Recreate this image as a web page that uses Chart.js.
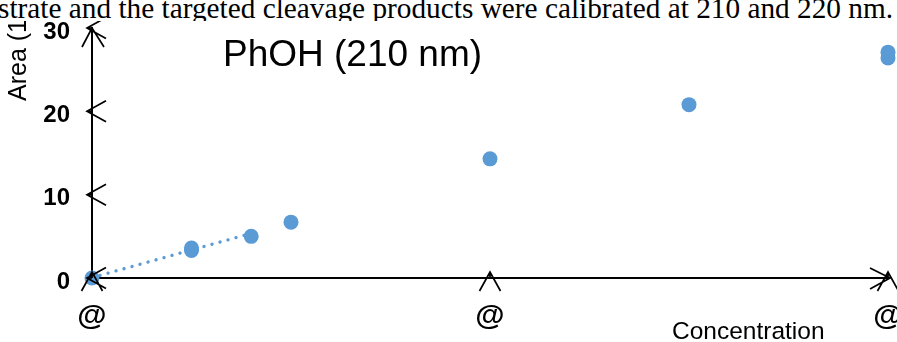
<!DOCTYPE html>
<html>
<head>
<meta charset="utf-8">
<script src="https://cdn.jsdelivr.net/npm/chart.js@4.4.1/dist/chart.umd.min.js"></script>
<style>
  html, body { margin: 0; padding: 0; background: #fff; }
  #wrap { position: relative; width: 897px; height: 342px; overflow: hidden; background: #fff; }
  #c { display: block; position: absolute; left: 0; top: 0; }
  #sentence { position: absolute; left: 0; top: 0; width: 897px; height: 21px; background: #fff; overflow: hidden; }
  #sentence span { position: absolute; left: -2px; top: -6px; white-space: nowrap; font: 29.3px/29px "Liberation Serif", "Times New Roman", serif; color: #000; }
  #title { position: absolute; left: 223px; top: 36px; white-space: nowrap; font: 37px/36px "Liberation Sans", Arial, sans-serif; color: #000; }
  #xtitle { position: absolute; left: 672px; top: 318.8px; white-space: nowrap; font: 24.5px/24.5px "Liberation Sans", Arial, sans-serif; color: #000; }
  #ytitle { position: absolute; left: 5px; top: 101px; white-space: nowrap; font: 25px/24px "Liberation Sans", Arial, sans-serif; color: #000; transform-origin: 0 0; transform: rotate(-90deg); }
</style>
</head>
<body>
<div id="wrap">
  <canvas id="c" width="897" height="342"></canvas>
  <div id="ytitle">Area (1</div>
  <div id="sentence"><span>strate and the targeted cleavage products were calibrated at 210 and 220 nm.</span></div>
  <div id="title">PhOH (210 nm)</div>
  <div id="xtitle">Concentration</div>
</div>
<script>
// ---- data ----
const concentrations = [0, 0.25, 0.25, 0.4, 0.5, 1.0, 1.5, 2.0, 2.0];
const areas          = [0, 3.6, 3.3, 5.0, 6.7, 14.3, 20.8, 27.1, 26.4];
const trendX = [0, 0.4];
const trendY = [0.05, 5.35];
const xTickValues = [0, 1, 2];
const xTickLabel = '@';
const yTickValues = [0, 10, 20, 30];

const blue = '#5B9BD5';

const arrowTicks = {
  id: 'arrowTicks',
  afterDraw(chart) {
    const { ctx, scales: { x, y } } = chart;
    const x0 = x.getPixelForValue(0);
    const y0 = y.getPixelForValue(0);
    ctx.save();
    ctx.strokeStyle = '#000';
    ctx.lineWidth = 1.7;
    ctx.lineJoin = 'miter';
    ctx.beginPath();
    // y ticks: "<" chevrons
    y.ticks.forEach(t => {
      const py = y.getPixelForValue(t.value);
      ctx.moveTo(x0 + 14, py - 10.5);
      ctx.lineTo(x0 - 5, py);
      ctx.lineTo(x0 + 14, py + 10.5);
      ctx.moveTo(x0 - 5, py);
      ctx.lineTo(x0, py);
    });
    // x ticks: "^" chevrons
    x.ticks.forEach(t => {
      const px = x.getPixelForValue(t.value);
      ctx.moveTo(px - 10.5, y0 + 13);
      ctx.lineTo(px, y0 - 6);
      ctx.lineTo(px + 10.5, y0 + 13);
      ctx.moveTo(px, y0 - 6);
      ctx.lineTo(px, y0);
    });
    // y axis end arrow
    const yt = y.getPixelForValue(y.max);
    ctx.moveTo(x0 - 10, yt + 19);
    ctx.lineTo(x0, yt);
    ctx.lineTo(x0 + 12, yt + 19);
    // x axis end arrow
    const xr = x.getPixelForValue(x.max) + 2;
    ctx.moveTo(xr - 20, y0 - 10);
    ctx.lineTo(xr, y0);
    ctx.lineTo(xr - 20, y0 + 11);
    ctx.stroke();
    ctx.lineWidth = 2;
    ctx.beginPath();
    ctx.moveTo(x.getPixelForValue(x.max) - 1, y0);
    ctx.lineTo(xr, y0);
    ctx.stroke();
    ctx.restore();
  }
};

new Chart(document.getElementById('c'), {
  type: 'scatter',
  data: {
    datasets: [
      {
        label: 'PhOH',
        data: concentrations.map((c, i) => ({ x: c, y: areas[i] })),
        backgroundColor: blue,
        borderWidth: 0,
        pointRadius: 7.5,
        pointHoverRadius: 7.5,
        clip: false
      },
      {
        label: 'Linear trend',
        type: 'line',
        showLine: true,
        data: trendX.map((c, i) => ({ x: c, y: trendY[i] })),
        borderColor: blue,
        borderWidth: 3.3,
        borderDash: [0.1, 8.2],
        borderCapStyle: 'round',
        pointRadius: 0,
        fill: false,
        clip: false
      }
    ]
  },
  options: {
    responsive: false,
    animation: false,
    devicePixelRatio: 1,
    layout: { padding: { top: 28, right: 9, left: 0, bottom: 0 } },
    plugins: { legend: { display: false }, tooltip: { enabled: false } },
    scales: {
      x: {
        type: 'linear',
        min: 0, max: 2,
        z: 1,
        afterFit(s) { s.height = 64; s.paddingRight = 0; s.paddingLeft = 0; },
        afterBuildTicks(s) { s.ticks = xTickValues.map(v => ({ value: v })); },
        grid: { display: false, drawTicks: false },
        border: { display: true, color: '#000', width: 2 },
        ticks: {
          callback: () => xTickLabel,
          font: { family: 'Arial, "Liberation Sans", sans-serif', size: 30, weight: 'bold' },
          color: '#000',
          padding: 21,
          maxRotation: 0,
          autoSkip: false
        }
      },
      y: {
        type: 'linear',
        min: 0, max: 30,
        z: 1,
        afterFit(s) { s.width = 92; s.paddingTop = 0; s.paddingBottom = 0; },
        afterBuildTicks(s) { s.ticks = yTickValues.map(v => ({ value: v })); },
        grid: { display: false, drawTicks: false },
        border: { display: true, color: '#000', width: 2 },
        ticks: {
          font: { family: 'Arial, "Liberation Sans", sans-serif', size: 24, weight: 'bold' },
          color: '#000',
          padding: 22,
          labelOffset: 4
        }
      }
    }
  },
  plugins: [arrowTicks]
});
</script>
</body>
</html>
